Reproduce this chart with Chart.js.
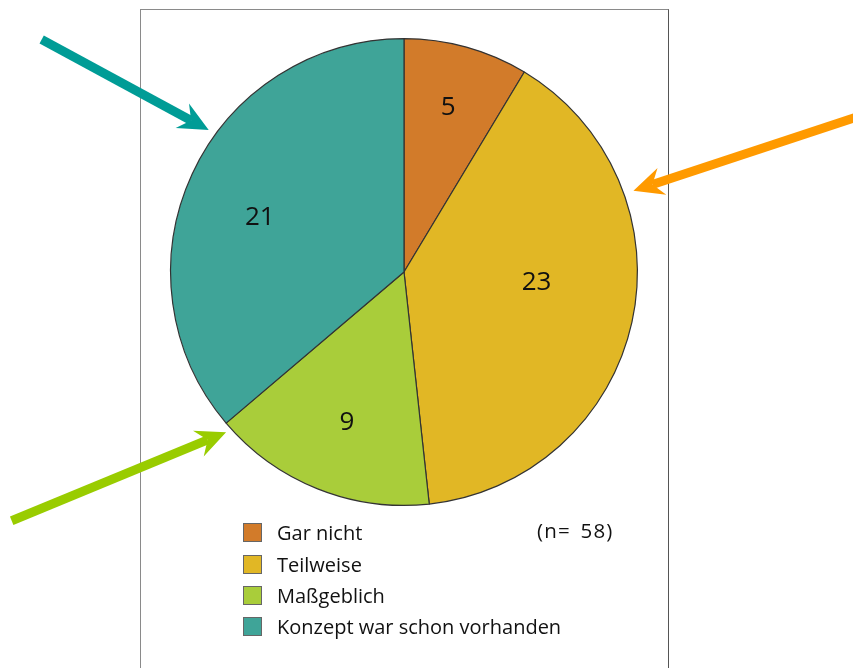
<!DOCTYPE html>
<html>
<head>
<meta charset="utf-8">
<script src="https://cdn.jsdelivr.net/npm/chart.js@4.4.0/dist/chart.umd.min.js"></script>
<style>
  html, body { margin: 0; padding: 0; background: #fff; }
  #wrap { position: relative; width: 853px; height: 668px; overflow: hidden; font-family: "Open Sans", sans-serif; }
  #frame { position: absolute; left: 140px; top: 9px; width: 529px; height: 700px; border: 1px solid #8a8a8a; border-right-color: #555; box-sizing: border-box; }
  #c { position: absolute; left: 0; top: 0; }
  #legend { position: absolute; left: 243px; top: 517px; font-size: 20px; color: #111; }
  .row { display: flex; align-items: center; height: 31.4px; }
  .sw { width: 19px; height: 19px; box-sizing: border-box; border: 1px solid #666; margin-right: 15px; }
  #n { position: absolute; left: 537px; top: 516px; font-size: 20.5px; color: #111; letter-spacing: 1.2px; word-spacing: 3px; }
</style>
</head>
<body>
<div id="wrap">
  <div id="frame"></div>
  <canvas id="c" width="853" height="668"></canvas>
  <div id="legend"></div>
  <div id="n">(n= 58)</div>
</div>
<script>
const categories = ["Gar nicht", "Teilweise", "Maßgeblich", "Konzept war schon vorhanden"];
const values = [5, 23, 9, 21];
const colors = ["#D27B2A", "#E1B725", "#A9CD3A", "#3FA498"];
const sampleLabel = "(n= 58)";

// label placement inside each slice: radius fraction, angle shift (deg)
const labelPlace = [[0.73, -0.5], [0.57, -7.7], [0.69, -1], [0.66, -4.2]];

// arrows pointing at the pie edge; angle in degrees clockwise from top
const arrows = [
  { angle: 306, gap: 8, dir: [-166, -90], len: 190, color: "#009C96" },
  { angle: 70.5, gap: 10, dir: [218, -72], len: 250, color: "#FF9A00" },
  { angle: 228, gap: 6, dir: [-213, 88], len: 232, color: "#99CC00" }
];

const labelPlugin = {
  id: 'sliceLabels',
  afterDatasetsDraw(chart) {
    const ctx = chart.ctx;
    const meta = chart.getDatasetMeta(0);
    ctx.save();
    ctx.font = '26px "Open Sans", sans-serif';
    ctx.fillStyle = '#111';
    ctx.textAlign = 'center';
    ctx.textBaseline = 'middle';
    meta.data.forEach((arc, i) => {
      const p = arc.getProps(['x','y','startAngle','endAngle','outerRadius'], true);
      const mid = (p.startAngle + p.endAngle) / 2 + labelPlace[i][1] * Math.PI / 180;
      const r = p.outerRadius * labelPlace[i][0];
      ctx.fillText(String(chart.data.datasets[0].data[i]), p.x + Math.cos(mid) * r, p.y + Math.sin(mid) * r);
    });
    ctx.restore();
  }
};

const arrowPlugin = {
  id: 'arrows',
  afterDraw(chart) {
    const ctx = chart.ctx;
    const arc = chart.getDatasetMeta(0).data[0];
    const cx = arc.x, cy = arc.y, R = arc.outerRadius;
    arrows.forEach(a => {
      const th = (a.angle - 90) * Math.PI / 180;
      const tx = cx + Math.cos(th) * (R + a.gap);
      const ty = cy + Math.sin(th) * (R + a.gap);
      const dl = Math.hypot(a.dir[0], a.dir[1]);
      const ux = -a.dir[0] / dl, uy = -a.dir[1] / dl;
      const nx = -uy, ny = ux;
      const sx = tx - ux * a.len, sy = ty - uy * a.len;
      const L = 30, W = 14, notch = 10;
      const bx = tx - ux * L, by = ty - uy * L;
      const mx = tx - ux * (L - notch), my = ty - uy * (L - notch);
      ctx.save();
      ctx.strokeStyle = a.color;
      ctx.fillStyle = a.color;
      ctx.lineWidth = 9;
      ctx.beginPath();
      ctx.moveTo(sx, sy);
      ctx.lineTo(mx, my);
      ctx.stroke();
      ctx.beginPath();
      ctx.moveTo(tx, ty);
      ctx.lineTo(bx + nx * W, by + ny * W);
      ctx.lineTo(mx, my);
      ctx.lineTo(bx - nx * W, by - ny * W);
      ctx.closePath();
      ctx.fill();
      ctx.restore();
    });
  }
};

const chart = new Chart(document.getElementById('c'), {
  type: 'pie',
  data: {
    labels: categories,
    datasets: [{
      data: values,
      backgroundColor: colors,
      borderColor: '#333',
      borderWidth: 1.2
    }]
  },
  options: {
    responsive: false,
    animation: false,
    events: [],
    layout: { padding: { left: 170, top: 38, right: 215, bottom: 162 } },
    plugins: { legend: { display: false }, tooltip: { enabled: false } }
  },
  plugins: [labelPlugin, arrowPlugin]
});

const legendEl = document.getElementById('legend');
chart.data.labels.forEach((lab, i) => {
  const row = document.createElement('div');
  row.className = 'row';
  const sw = document.createElement('div');
  sw.className = 'sw';
  sw.style.background = chart.data.datasets[0].backgroundColor[i];
  const t = document.createElement('span');
  t.textContent = lab;
  row.appendChild(sw); row.appendChild(t);
  legendEl.appendChild(row);
});
document.getElementById('n').textContent = sampleLabel;
</script>
</body>
</html>
